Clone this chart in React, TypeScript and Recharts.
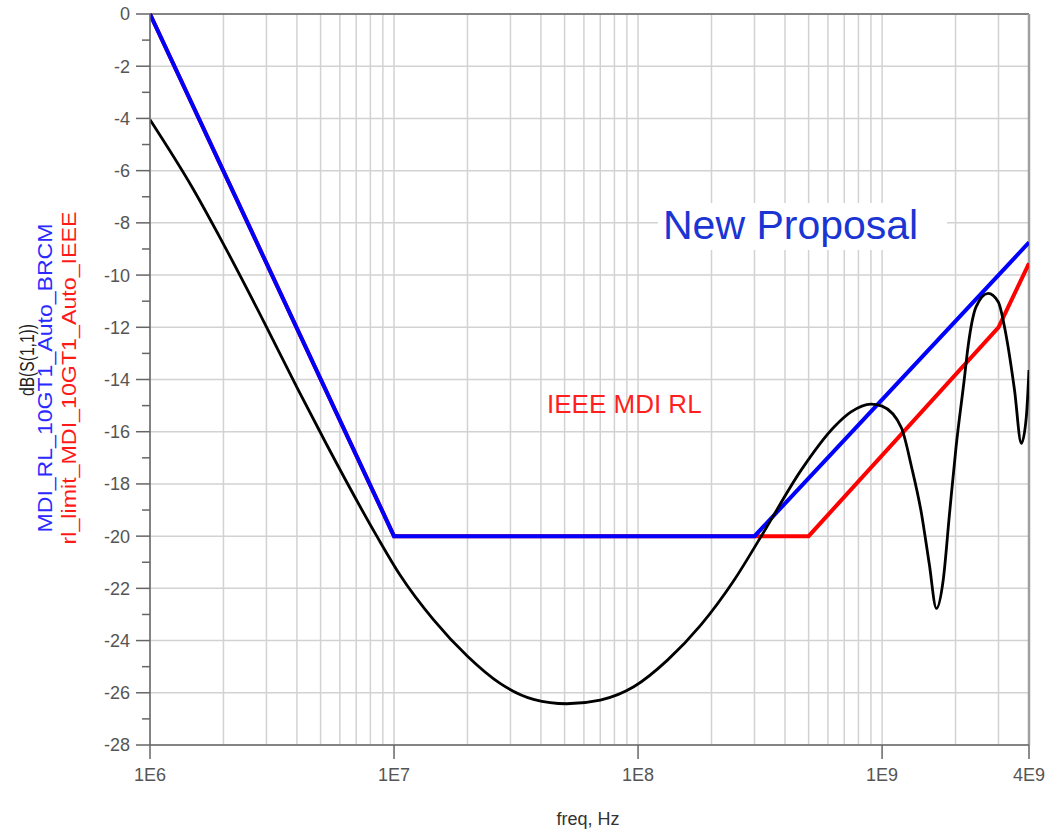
import {
  CartesianGrid,
  Line,
  LineChart,
  ReferenceLine,
  XAxis,
  YAxis,
} from "recharts"

// BRCM proposal mask
const blueFreq = [1e6, 1e7, 3e8, 4e9]
const blueDb = [0, -20, -20, -8.75]

// IEEE limit
const redFreq = [1e6, 1e7, 5e8, 3e9, 4e9]
const redDb = [0, -20, -20, -12, -9.55]

// measured S11
const blackFreq = [
  1e6, 1.48e6, 1.96e6, 3.0e6, 4.0e6, 5.3e6, 8.5e6, 1.06e7, 1.45e7,
  2.0e7, 2.72e7, 3.73e7, 5.1e7, 7.0e7, 9.6e7, 1.32e8, 1.81e8, 2.47e8, 3.2e8,
  4.66e8, 6.37e8, 7.46e8, 9.0e8, 1.0e9, 1.2e9, 1.32e9, 1.45e9, 1.56e9,
  1.67e9, 1.78e9, 1.89e9, 2.01e9, 2.17e9, 2.25e9, 2.43e9, 2.72e9, 2.99e9,
  3.23e9, 3.49e9, 3.72e9, 3.9e9, 4.0e9,
]
const blackDb = [
  -4.05, -6.6, -8.66, -11.98, -14.3, -16.5, -20.0, -21.5, -23.2,
  -24.6, -25.64, -26.25, -26.42, -26.28, -25.77, -24.75, -23.4, -21.7, -20.0,
  -17.47, -15.81, -15.24, -14.94, -15.02, -15.85, -17.34, -19.13, -21.05,
  -22.77, -21.69, -19.13, -16.58, -14.02, -12.75, -11.21, -10.7, -11.02,
  -12.36, -14.41, -16.45, -15.43, -13.64,
]

const xTicks = [1e6, 1e7, 1e8, 1e9, 4e9]
const xTickLabels = ["1E6", "1E7", "1E8", "1E9", "4E9"]
const yMajor = [0, -2, -4, -6, -8, -10, -12, -14, -16, -18, -20, -22, -24, -26, -28]
const yMinor = [-1, -3, -5, -7, -9, -11, -13, -15, -17, -19, -21, -23, -25, -27]
const decades = [1e6, 1e7, 1e8, 1e9]
const decadeSteps = [1, 2, 3, 4, 5, 6, 7, 8, 9]

const toRows = (f: number[], d: number[]) =>
  f.map((x, i) => ({ f: x, db: d[i] }))

const blueData = toRows(blueFreq, blueDb)
const redData = toRows(redFreq, redDb)
const blackData = toRows(blackFreq, blackDb)

const verticalGrid = decades
  .flatMap((d) => decadeSteps.map((m) => d * m))
  .filter((v) => v <= 4e9)

const axisColor = "#666"
const labelColor = "#555"

function YTick(props: any) {
  const { x, y, payload } = props
  const axisX = x + 20
  const major = payload.value % 2 === 0
  return (
    <g>
      <line
        x1={axisX - (major ? 14 : 8)}
        x2={axisX}
        y1={y}
        y2={y}
        stroke={axisColor}
        strokeWidth={1.5}
      />
      {major && (
        <text
          x={x}
          y={y}
          dy="0.36em"
          textAnchor="end"
          fill={labelColor}
          fontSize={18}
        >
          {payload.value}
        </text>
      )}
    </g>
  )
}

export default function App() {
  return (
    <div
      style={{
        position: "relative",
        width: 1045,
        height: 831,
        fontFamily: "'Liberation Sans', Arial, sans-serif",
        background: "#fff",
      }}
    >
      <style>{`body{margin:0}`}</style>
      <LineChart
        width={1045}
        height={831}
        margin={{ top: 14, right: 16, bottom: 26, left: 0 }}
      >
        <CartesianGrid
          stroke="#d2d2d2"
          strokeWidth={1.5}
          horizontalValues={yMajor}
          verticalValues={verticalGrid}
        />
        <XAxis
          dataKey="f"
          type="number"
          scale="log"
          domain={[1e6, 4e9]}
          allowDataOverflow
          ticks={xTicks}
          interval={0}
          tickFormatter={(v: number) => xTickLabels[xTicks.indexOf(v)]}
          tick={{ fill: labelColor, fontSize: 18 }}
          tickSize={14}
          tickMargin={9}
          height={60}
          stroke={axisColor}
          strokeWidth={1.5}
        />
        <YAxis
          type="number"
          domain={[-28, 0]}
          ticks={[...yMajor, ...yMinor]}
          interval={0}
          width={150}
          tick={<YTick />}
          tickLine={false}
          tickSize={14}
          tickMargin={6}
          stroke={axisColor}
          strokeWidth={1.5}
        />
        <ReferenceLine y={0} stroke={axisColor} strokeWidth={1.5} />
        <ReferenceLine x={4e9} stroke="#a0a0a0" strokeWidth={2.5} />
        <Line
          data={redData}
          dataKey="db"
          type="linear"
          stroke="#ff0000"
          strokeWidth={4}
          dot={false}
          isAnimationActive={false}
        />
        <Line
          data={blueData}
          dataKey="db"
          type="linear"
          stroke="#0000ff"
          strokeWidth={4}
          dot={false}
          isAnimationActive={false}
        />
        <Line
          data={blackData}
          dataKey="db"
          type="monotone"
          stroke="#000"
          strokeWidth={2.8}
          dot={false}
          isAnimationActive={false}
        />
      </LineChart>
      <svg
        width={1045}
        height={831}
        style={{ position: "absolute", left: 0, top: 0, pointerEvents: "none" }}
      >
        <rect x={658} y={203} width={289} height={47} fill="#fff" />
        <text x={663} y={239} fontSize={41} fill="#1a35d4">
          New Proposal
        </text>
        <text x={547} y={413} fontSize={26} fill="#ff1f1f">
          IEEE MDI RL
        </text>
        <text x={588} y={825} fontSize={18} fill="#333" textAnchor="middle">
          freq, Hz
        </text>
        <text
          transform="translate(34 360) rotate(-90)"
          fontSize={20}
          fill="#222"
          textAnchor="middle"
          textLength={72}
          lengthAdjust="spacingAndGlyphs"
        >
          dB(S(1,1))
        </text>
        <text
          transform="translate(52 378) rotate(-90)"
          fontSize={21}
          fill="#2a2aff"
          textAnchor="middle"
          textLength={309}
          lengthAdjust="spacingAndGlyphs"
        >
          MDI_RL_10GT1_Auto_BRCM
        </text>
        <text
          transform="translate(76 378) rotate(-90)"
          fontSize={21}
          fill="#ff1a1a"
          textAnchor="middle"
          textLength={333}
          lengthAdjust="spacingAndGlyphs"
        >
          rl_limit_MDI_10GT1_Auto_IEEE
        </text>
      </svg>
    </div>
  )
}
